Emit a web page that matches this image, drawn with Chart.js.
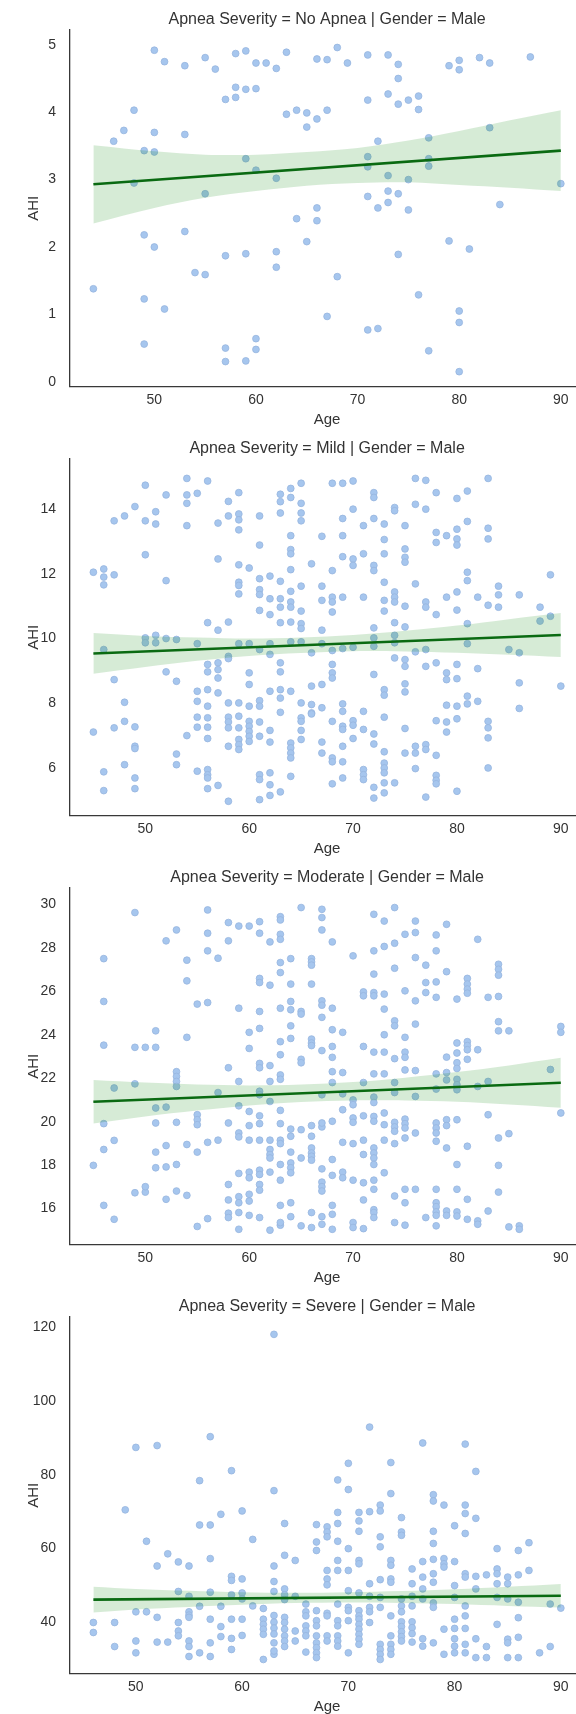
<!DOCTYPE html>
<html>
<head>
<meta charset="utf-8">
<script src="https://cdn.jsdelivr.net/npm/chart.js@4.4.1/dist/chart.umd.min.js"></script>
<style>
  html, body { margin: 0; padding: 0; background: #fff; overflow: hidden; }
  body { width: 576px; height: 1714px; position: relative; }
  .panel { position: absolute; left: 0; width: 589px; height: 429px; }
</style>
</head>
<body>
<div class="panel" style="top:0px"><canvas id="noApnea" width="589" height="429"></canvas></div>
<div class="panel" style="top:429px"><canvas id="mild" width="589" height="429"></canvas></div>
<div class="panel" style="top:858px"><canvas id="moderate" width="589" height="429"></canvas></div>
<div class="panel" style="top:1287px"><canvas id="severe" width="589" height="429"></canvas></div>
<script>
// [age, AHI] per subject, one list per severity group (males only)
const noApneaPoints = [
  [50,4.92],[51,4.75],[53,4.69],[55,4.81],[56,4.64],[58,4.87],[59,4.91],[60,4.73],[61,4.73],[62,4.65],
  [63,4.89],[66,4.79],[67,4.78],[68,4.96],[69,4.73],[71,4.85],[73,4.85],[74,4.71],[74,4.50],[79,4.69],
  [80,4.77],[80,4.63],[82,4.81],[83,4.73],[87,4.82],[58,4.37],[59,4.34],[60,4.35],[57,4.19],[58,4.22],
  [71,4.18],[73,4.27],[74,4.12],[75,4.18],[76,4.24],[76,4.04],[48,4.03],[63,3.97],[64,4.03],[65,3.99],
  [67,4.03],[66,3.90],[65,3.78],[47,3.73],[46,3.57],[50,3.70],[53,3.67],[49,3.43],[50,3.41],[83,3.77],
  [77,3.62],[72,3.57],[59,3.31],[60,3.14],[62,3.02],[48,2.95],[71,3.34],[71,3.19],[77,3.31],[77,3.20],
  [73,3.06],[75,3.00],[90,2.94],[55,2.79],[71,2.75],[73,2.83],[74,2.79],[84,2.63],[66,2.58],[72,2.58],
  [75,2.55],[73,2.66],[66,2.39],[64,2.42],[49,2.18],[50,2.00],[53,2.23],[65,2.08],[79,2.09],[81,1.97],
  [57,1.87],[59,1.90],[62,1.93],[62,1.70],[74,1.89],[54,1.62],[55,1.59],[68,1.56],[44,1.38],[49,1.23],
  [51,1.08],[76,1.29],[80,1.05],[80,0.88],[67,0.97],[71,0.77],[72,0.79],[49,0.56],[60,0.64],[57,0.50],
  [60,0.48],[57,0.30],[59,0.31],[77,0.46],[80,0.15]
];
const mildPoints = [
  [54,14.95],[56,14.87],[50,14.74],[68,14.80],[69,14.80],[70,14.87],[65,14.80],[64,14.64],[76,14.95],[77,14.89],
  [83,14.95],[52,14.44],[54,14.44],[54,14.18],[55,14.49],[59,14.51],[58,14.24],[63,14.46],[63,14.23],[64,14.36],
  [65,14.18],[72,14.51],[72,14.36],[78,14.51],[80,14.33],[81,14.56],[49,14.08],[48,13.79],[47,13.64],[50,13.64],
  [51,13.92],[51,13.54],[54,13.49],[57,13.57],[58,13.79],[59,13.85],[59,13.67],[59,13.36],[61,13.79],[63,13.88],
  [65,13.88],[65,13.64],[69,13.71],[70,14.00],[71,13.49],[72,13.71],[73,13.54],[74,14.05],[74,13.95],[75,13.49],
  [76,14.15],[77,14.00],[78,13.28],[78,12.97],[79,13.18],[80,13.38],[80,13.08],[80,12.89],[81,13.62],[83,13.41],
  [83,13.08],[64,13.18],[64,12.75],[64,12.62],[67,13.16],[69,13.18],[61,12.89],[73,13.06],[75,12.77],[75,12.51],
  [75,12.36],[73,12.62],[71,12.62],[70,12.46],[70,12.26],[69,12.53],[72,12.26],[72,12.10],[50,12.59],[57,12.46],
  [66,12.31],[68,12.10],[45,12.05],[46,12.15],[46,11.90],[47,11.97],[46,11.66],[52,11.79],[59,12.28],[60,12.18],
  [64,12.13],[59,11.74],[59,11.64],[59,11.38],[61,11.85],[62,11.93],[63,11.77],[65,11.62],[67,11.62],[61,11.51],
  [61,11.36],[64,11.46],[73,11.74],[76,11.69],[81,12.05],[81,11.79],[89,11.97],[84,11.62],[84,11.35],[80,11.44],
  [74,11.44],[74,11.28],[62,11.23],[63,11.23],[63,10.97],[64,11.13],[64,10.97],[67,11.18],[68,11.28],[68,11.13],
  [69,11.28],[71,11.28],[73,11.18],[74,11.13],[75,11.00],[77,11.13],[77,10.97],[79,11.28],[82,11.28],[83,11.03],
  [84,10.97],[86,11.35],[88,10.97],[61,10.87],[62,10.74],[65,10.85],[68,10.82],[73,10.85],[78,10.74],[80,10.88],
  [56,10.49],[58,10.51],[63,10.49],[64,10.51],[65,10.46],[65,10.31],[74,10.49],[75,10.36],[81,10.46],[89,10.69],
  [88,10.54],[57,10.26],[67,10.26],[72,10.33],[50,10.02],[50,9.87],[51,10.10],[51,9.87],[52,10.00],[53,9.97],
  [55,9.84],[46,9.66],[59,9.84],[60,9.84],[61,9.66],[62,9.84],[62,9.51],[64,9.90],[65,9.90],[66,9.56],
  [67,9.84],[68,9.63],[69,9.69],[70,9.73],[72,10.02],[72,9.76],[74,10.10],[74,9.87],[76,9.59],[77,9.66],
  [81,9.84],[85,9.66],[86,9.56],[57,9.25],[57,9.04],[56,9.20],[56,8.97],[58,9.45],[58,9.38],[63,9.25],
  [63,8.97],[68,9.20],[68,8.94],[68,8.78],[74,9.40],[75,9.35],[75,9.14],[77,9.14],[78,9.25],[79,8.94],
  [79,8.73],[80,9.20],[82,9.07],[47,8.73],[52,8.97],[53,8.68],[60,8.94],[60,8.58],[57,8.78],[72,8.89],
  [75,8.60],[75,8.35],[73,8.42],[73,8.25],[66,8.53],[67,8.58],[86,8.63],[90,8.53],[80,8.76],[55,8.37],
  [56,8.42],[57,8.32],[62,8.37],[63,8.42],[64,8.37],[63,8.16],[48,8.03],[55,8.06],[56,7.91],[58,8.01],
  [59,8.01],[60,7.91],[61,8.08],[61,7.91],[65,8.01],[66,7.96],[67,7.86],[69,7.98],[69,7.75],[79,7.94],
  [80,7.91],[81,7.98],[81,8.22],[82,8.06],[86,7.84],[71,7.75],[63,7.72],[66,7.70],[55,7.57],[56,7.55],
  [58,7.57],[58,7.42],[58,7.24],[59,7.60],[60,7.44],[60,7.29],[60,7.13],[60,6.98],[60,6.82],[61,7.42],
  [65,7.55],[65,7.44],[66,7.67],[68,7.44],[69,7.29],[69,7.19],[70,7.46],[70,7.32],[71,7.19],[73,7.57],
  [78,7.46],[79,7.42],[80,7.52],[83,7.44],[83,7.24],[83,6.93],[48,7.44],[47,7.24],[49,7.27],[45,7.11],
  [54,7.00],[55,7.26],[56,7.26],[59,7.24],[62,7.16],[65,7.16],[72,7.05],[75,7.22],[79,7.11],[56,6.91],
  [59,6.88],[59,6.72],[59,6.57],[61,6.98],[62,6.80],[64,6.77],[64,6.62],[64,6.46],[64,6.31],[65,6.88],
  [67,6.80],[70,6.91],[72,6.74],[73,6.50],[58,6.67],[49,6.67],[49,6.60],[53,6.43],[67,6.46],[69,6.67],
  [75,6.46],[76,6.46],[76,6.67],[77,6.72],[77,6.57],[78,6.39],[68,6.31],[68,6.19],[69,6.19],[53,6.10],
  [48,6.10],[46,5.88],[49,5.69],[55,5.90],[56,5.95],[56,5.79],[56,5.69],[61,5.79],[61,5.64],[62,5.85],
  [62,5.48],[64,5.74],[69,5.69],[71,5.95],[71,5.79],[71,5.64],[73,6.15],[73,6.00],[73,5.85],[76,5.98],
  [78,5.77],[78,5.62],[78,5.51],[83,6.00],[46,5.30],[49,5.36],[56,5.36],[57,5.46],[68,5.51],[72,5.40],
  [73,5.54],[74,5.54],[73,5.23],[58,4.97],[61,5.02],[62,5.15],[63,5.26],[72,5.07],[77,5.10],[80,5.28]
];
const moderatePoints = [
  [49,29.62],[56,29.74],[65,29.85],[67,29.77],[67,29.39],[67,28.82],[74,29.85],[72,29.54],[73,29.23],[76,29.23],
  [76,28.70],[75,28.62],[78,28.59],[79,29.08],[82,28.39],[58,29.16],[59,29.00],[60,29.00],[61,29.20],[63,29.43],
  [63,29.28],[61,28.67],[62,28.27],[63,28.62],[63,28.39],[53,28.82],[56,28.67],[52,28.32],[58,28.32],[68,28.27],
  [72,27.86],[73,28.06],[74,28.21],[46,27.50],[54,27.43],[56,27.86],[57,27.52],[63,27.32],[64,27.50],[63,26.86],
  [66,27.50],[66,27.35],[66,27.20],[70,27.63],[74,27.06],[76,27.55],[77,27.20],[78,27.86],[79,26.90],[72,26.79],
  [84,27.24],[84,27.01],[84,26.74],[54,26.48],[61,26.59],[61,26.40],[62,26.28],[64,26.33],[66,26.33],[77,26.40],
  [78,26.43],[81,26.59],[81,26.33],[81,26.10],[81,25.91],[71,25.97],[72,25.94],[73,25.87],[71,25.79],[72,25.79],
  [75,26.02],[76,25.56],[77,25.94],[78,25.72],[80,25.64],[83,25.72],[84,25.76],[46,25.53],[55,25.41],[56,25.48],
  [64,25.53],[67,25.56],[67,25.36],[59,25.22],[61,25.07],[63,25.22],[64,25.15],[65,25.07],[65,24.95],[68,25.22],
  [73,25.18],[67,24.80],[74,24.64],[74,24.41],[76,24.49],[84,24.60],[51,24.18],[61,24.29],[60,24.11],[64,24.41],
  [68,24.23],[69,24.11],[84,24.18],[85,24.18],[90,24.38],[90,24.11],[54,23.88],[64,23.83],[73,24.00],[75,23.88],
  [66,23.80],[66,23.62],[66,23.50],[46,23.52],[49,23.42],[50,23.42],[51,23.42],[60,23.37],[63,23.68],[68,23.46],
  [71,23.46],[81,23.68],[81,23.50],[81,23.31],[82,23.31],[80,23.62],[80,23.16],[63,23.08],[67,23.27],[68,22.96],
  [72,23.20],[73,23.20],[75,23.20],[75,22.96],[74,22.90],[79,22.97],[80,22.71],[81,22.87],[65,22.87],[65,22.71],
  [61,22.68],[62,22.58],[61,22.48],[58,22.48],[53,22.30],[53,22.08],[53,21.85],[53,21.62],[63,22.15],[63,21.95],
  [62,21.85],[68,22.30],[69,22.26],[72,22.20],[73,22.20],[75,22.38],[76,22.35],[78,22.20],[79,22.26],[80,22.45],
  [89,22.40],[47,21.55],[49,21.74],[57,21.34],[61,21.40],[61,21.24],[59,21.85],[68,21.80],[71,21.80],[74,21.80],
  [74,21.34],[76,21.16],[78,21.50],[79,21.92],[80,21.95],[80,21.70],[80,21.47],[82,21.62],[83,21.85],[67,21.24],
  [69,21.28],[70,21.00],[70,20.78],[72,21.13],[72,20.88],[62,20.93],[51,20.63],[52,20.67],[59,20.73],[60,20.47],
  [63,20.52],[69,20.55],[73,20.40],[46,19.91],[51,19.94],[53,19.97],[55,20.32],[55,20.09],[55,19.86],[58,19.94],
  [60,19.82],[61,19.91],[61,20.27],[63,19.91],[64,19.66],[65,19.63],[66,19.82],[67,19.76],[67,19.94],[68,20.02],
  [70,20.17],[70,19.97],[71,20.27],[72,20.24],[72,20.02],[73,19.86],[74,19.97],[74,19.76],[74,19.56],[75,20.12],
  [75,19.91],[75,19.71],[78,19.94],[78,19.71],[78,19.48],[79,20.09],[79,19.82],[80,20.09],[83,20.32],[90,20.40],
  [76,19.48],[75,19.25],[59,19.48],[59,19.30],[60,19.15],[61,19.15],[62,19.15],[63,19.15],[63,18.99],[64,19.33],
  [66,19.33],[69,19.05],[70,18.99],[71,19.15],[73,19.15],[74,18.99],[78,19.10],[79,18.79],[81,18.87],[84,19.25],
  [85,19.45],[47,19.14],[46,18.72],[51,18.60],[52,18.90],[54,18.95],[55,18.60],[56,19.05],[57,19.15],[62,18.72],
  [62,18.49],[62,18.33],[64,18.60],[64,18.10],[64,17.88],[64,17.65],[66,18.79],[66,18.56],[66,18.41],[66,18.23],
  [65,18.33],[63,18.03],[68,18.26],[71,18.49],[72,18.79],[72,18.56],[72,18.33],[72,18.03],[45,17.99],[51,17.88],
  [52,17.92],[53,18.03],[80,18.03],[84,17.99],[59,17.62],[60,17.68],[60,17.42],[61,17.77],[61,17.57],[62,17.68],
  [63,17.31],[67,17.83],[68,17.53],[69,17.68],[69,17.42],[70,17.31],[71,17.19],[72,17.31],[73,17.65],[58,17.11],
  [60,16.66],[61,17.11],[61,16.85],[67,17.22],[67,17.01],[67,16.81],[72,16.89],[49,16.73],[50,16.76],[50,17.01],
  [52,16.43],[53,16.81],[54,16.61],[58,16.40],[59,16.55],[59,16.27],[60,16.35],[63,16.15],[64,16.27],[71,16.40],
  [74,16.58],[75,16.89],[76,16.89],[75,16.27],[78,16.89],[78,16.27],[78,16.09],[80,16.89],[81,16.43],[84,16.76],
  [46,16.15],[58,15.79],[58,15.59],[59,15.82],[60,15.69],[61,15.59],[66,15.82],[67,15.63],[68,16.15],[68,15.74],
  [72,15.95],[72,15.82],[72,15.59],[77,15.59],[78,15.85],[78,15.69],[79,15.89],[79,15.69],[80,15.85],[80,15.66],
  [81,15.51],[82,15.44],[82,15.28],[83,15.89],[47,15.51],[56,15.54],[64,15.63],[74,15.36],[75,15.24],[55,15.18],
  [59,15.05],[62,15.01],[63,15.24],[63,15.36],[65,15.21],[66,15.13],[67,15.28],[68,15.05],[70,15.36],[70,15.13],
  [71,15.08],[78,15.21],[85,15.16],[86,15.21],[86,15.05]
];
const severePoints = [
  [63,118.0],[72,92.9],[50,87.4],[52,87.9],[57,90.3],[77,88.6],[81,88.3],[70,83.1],[74,83.3],[59,81.1],
  [82,80.9],[56,78.4],[69,78.6],[63,75.7],[70,76.0],[74,74.9],[78,74.6],[78,72.9],[79,71.8],[81,71.8],
  [81,69.5],[82,68.2],[49,70.5],[58,69.3],[60,70.2],[56,66.4],[57,66.4],[64,66.8],[67,66.5],[68,65.9],
  [68,64.5],[69,69.8],[69,66.8],[71,69.8],[71,67.5],[71,64.7],[72,70.0],[73,71.8],[73,70.2],[75,68.4],
  [75,64.5],[75,63.6],[78,64.7],[78,61.4],[80,66.2],[81,64.1],[51,62.0],[61,62.5],[67,61.8],[67,59.5],
  [68,63.2],[69,62.0],[70,60.0],[73,63.2],[73,60.5],[84,60.0],[86,59.5],[87,61.6],[53,58.6],[54,56.4],
  [55,55.3],[57,57.3],[52,55.3],[64,58.2],[65,56.8],[63,55.3],[69,56.8],[70,54.1],[69,54.1],[71,56.8],
  [71,55.9],[74,56.8],[74,55.5],[76,54.5],[77,56.5],[78,57.1],[79,57.3],[79,55.9],[79,55.0],[80,56.5],
  [68,54.1],[68,51.8],[68,50.2],[73,51.6],[74,51.8],[74,50.9],[76,50.5],[77,52.3],[77,49.1],[78,53.2],
  [78,50.9],[81,53.2],[81,52.3],[82,52.5],[83,52.9],[84,54.5],[84,53.2],[84,50.5],[85,52.3],[85,50.5],
  [86,52.9],[87,54.1],[59,52.5],[59,51.4],[60,51.8],[63,51.1],[72,50.5],[80,50.0],[82,49.1],[54,48.4],
  [55,47.1],[57,48.2],[59,47.5],[60,48.0],[60,46.4],[63,48.4],[64,49.1],[64,47.5],[64,46.2],[65,47.1],
  [70,48.6],[71,48.0],[72,47.1],[73,46.8],[75,46.4],[76,47.1],[77,46.4],[80,46.8],[84,46.8],[85,46.4],
  [86,45.5],[81,44.5],[78,45.3],[78,44.1],[76,44.5],[75,44.5],[75,42.9],[72,44.1],[72,42.9],[69,45.0],
  [66,45.0],[66,42.9],[68,42.5],[67,43.2],[70,44.1],[70,43.2],[71,43.2],[73,44.1],[61,44.5],[62,43.8],
  [56,44.4],[58,44.4],[55,42.9],[55,42.0],[50,42.9],[51,42.9],[89,45.0],[90,43.9],[46,40.0],[46,37.3],
  [48,40.0],[52,41.4],[54,40.0],[54,37.7],[54,36.4],[55,41.4],[57,40.9],[58,38.9],[59,40.9],[60,40.9],
  [62,40.9],[62,39.5],[62,38.2],[62,36.8],[63,41.9],[63,40.1],[63,38.5],[63,36.9],[64,41.4],[64,40.0],
  [64,38.2],[64,36.4],[64,35.0],[64,33.5],[65,37.7],[65,35.0],[66,41.8],[66,39.1],[66,37.7],[66,36.4],
  [67,40.5],[67,39.1],[67,36.4],[67,34.5],[67,33.2],[67,31.8],[67,30.5],[68,41.8],[68,36.4],[68,35.0],
  [69,40.5],[69,39.1],[69,36.4],[69,35.0],[69,33.6],[70,40.5],[70,31.8],[71,41.8],[71,40.9],[71,39.5],
  [71,38.2],[71,36.8],[71,35.5],[71,34.1],[72,40.0],[73,34.1],[73,32.7],[73,31.4],[73,30.0],[74,41.8],
  [74,36.4],[74,34.1],[74,32.7],[74,31.4],[75,40.2],[75,38.9],[75,37.5],[75,36.2],[75,35.0],[76,40.2],
  [76,38.6],[76,37.0],[76,34.7],[77,35.6],[77,33.6],[78,34.5],[79,38.2],[79,31.4],[80,40.9],[80,38.4],
  [80,35.6],[80,33.6],[80,31.8],[81,41.8],[81,38.4],[81,34.1],[81,31.8],[82,35.6],[82,30.5],[83,33.5],
  [83,30.5],[84,39.5],[85,35.5],[85,34.5],[85,30.5],[86,36.0],[86,30.5],[86,41.3],[88,31.8],[89,33.5],
  [50,35.0],[50,31.8],[48,33.5],[52,34.7],[53,34.7],[55,35.0],[55,33.5],[55,30.8],[56,31.8],[57,34.5],
  [57,30.8],[58,36.2],[59,35.7],[59,32.7],[60,36.5],[62,30.0],[63,31.4],[63,34.5],[63,32.3],[66,32.0]
];

// fitted regression line (end points) and its 95% band
const noApneaFit = [[44, 2.93], [90, 3.43]];
const noApneaBandAge = [44, 50, 55, 60, 65, 70, 75, 80, 85, 90];
const noApneaBandHigh = [3.51, 3.42, 3.37, 3.37, 3.41, 3.47, 3.58, 3.72, 3.88, 4.03];
const noApneaBandLow = [2.35, 2.58, 2.73, 2.83, 2.91, 2.95, 2.96, 2.92, 2.88, 2.83];

const mildFit = [[45, 9.54], [90, 10.11]];
const mildBandAge = [45, 50, 55, 60, 65, 70, 75, 80, 85, 90];
const mildBandHigh = [10.17, 10.08, 10.03, 10.00, 10.03, 10.11, 10.24, 10.40, 10.60, 10.79];
const mildBandLow = [8.91, 9.12, 9.31, 9.46, 9.55, 9.61, 9.60, 9.56, 9.50, 9.43];

const moderateFit = [[45, 20.92], [90, 21.79]];
const moderateBandAge = [45, 50, 55, 60, 65, 70, 75, 80, 85, 90];
const moderateBandHigh = [21.92, 21.80, 21.71, 21.67, 21.71, 21.82, 22.02, 22.28, 22.59, 22.94];
const moderateBandLow = [19.92, 20.24, 20.51, 20.75, 20.91, 20.98, 20.98, 20.92, 20.79, 20.64];

const severeFit = [[46, 46.2], [90, 47.25]];
const severeBandAge = [46, 50, 55, 60, 65, 70, 75, 80, 85, 90];
const severeBandHigh = [49.7, 49.1, 48.6, 48.2, 48.05, 48.2, 48.5, 49.0, 49.7, 50.45];
const severeBandLow = [42.7, 43.5, 44.2, 44.8, 45.25, 45.4, 45.3, 45.0, 44.5, 44.05];

const FONT = "'Liberation Sans', Arial, sans-serif";
const TEXT = '#333333';
const SPINE = '#383838';
const DOT_FILL = '#a6c6ee';
const DOT_EDGE = '#97b5de';
const LINE_GREEN = '#0a6a12';
const BAND_GREEN = 'rgba(0, 128, 0, 0.16)';

const xy = pairs => pairs.map(([x, y]) => ({ x, y }));
const zipBand = (ages, vals) => ages.map((x, i) => ({ x, y: vals[i] }));

function facet(id, title, points, fit, bandAge, bandLow, bandHigh, xLim, yLim, yStep) {
  new Chart(document.getElementById(id), {
    type: 'line',
    data: {
      datasets: [
        { data: xy(fit), borderColor: LINE_GREEN, borderWidth: 2.6, pointRadius: 0, fill: false, order: 1 },
        { data: zipBand(bandAge, bandHigh), borderColor: 'transparent', borderWidth: 0, pointRadius: 0,
          tension: 0.35, fill: '+1', backgroundColor: BAND_GREEN, order: 2 },
        { data: zipBand(bandAge, bandLow), borderColor: 'transparent', borderWidth: 0, pointRadius: 0,
          tension: 0.35, fill: false, order: 2 },
        { data: xy(points), showLine: false, pointRadius: 3.4, pointBorderWidth: 0.8,
          pointBackgroundColor: DOT_FILL, pointBorderColor: DOT_EDGE, order: 3 }
      ]
    },
    options: {
      responsive: false,
      animation: false,
      events: [],
      layout: { padding: 0 },
      plugins: {
        legend: { display: false },
        tooltip: { enabled: false },
        title: {
          display: true, text: title, color: TEXT, fullSize: false,
          font: { family: FONT, size: 16, weight: 'normal' },
          padding: { top: 10, bottom: 0.8 }
        }
      },
      scales: {
        x: {
          type: 'linear', min: xLim[0], max: xLim[1],
          grid: { display: false, drawTicks: false },
          border: { display: true, color: SPINE, width: 1.3 },
          ticks: { stepSize: 10, includeBounds: false, padding: 5, color: TEXT, font: { family: FONT, size: 14 } },
          title: { display: true, text: 'Age', color: TEXT, font: { family: FONT, size: 15 }, padding: 0 },
          afterFit: s => { s.height = 42.5; }
        },
        y: {
          type: 'linear', min: yLim[0], max: yLim[1],
          grid: { display: false, drawTicks: false },
          border: { display: true, color: SPINE, width: 1.3 },
          ticks: { stepSize: yStep, includeBounds: false, padding: 14, color: TEXT, font: { family: FONT, size: 14 } },
          title: { display: true, text: 'AHI', color: TEXT, font: { family: FONT, size: 15 }, padding: { top: 25 } },
          afterFit: s => { s.width = 70; }
        }
      }
    }
  });
}

facet('noApnea', 'Apnea Severity = No Apnea | Gender = Male', noApneaPoints, noApneaFit,
  noApneaBandAge, noApneaBandLow, noApneaBandHigh, [41.7, 92.3], [-0.07, 5.22], 1);
facet('mild', 'Apnea Severity = Mild | Gender = Male', mildPoints, mildFit,
  mildBandAge, mildBandLow, mildBandHigh, [42.75, 92.25], [4.53, 15.55], 2);
facet('moderate', 'Apnea Severity = Moderate | Gender = Male', moderatePoints, moderateFit,
  moderateBandAge, moderateBandLow, moderateBandHigh, [42.75, 92.25], [14.35, 30.75], 2);
facet('severe', 'Apnea Severity = Severe | Gender = Male', severePoints, severeFit,
  severeBandAge, severeBandLow, severeBandHigh, [43.8, 92.2], [26.2, 122.7], 20);
</script>
</body>
</html>
